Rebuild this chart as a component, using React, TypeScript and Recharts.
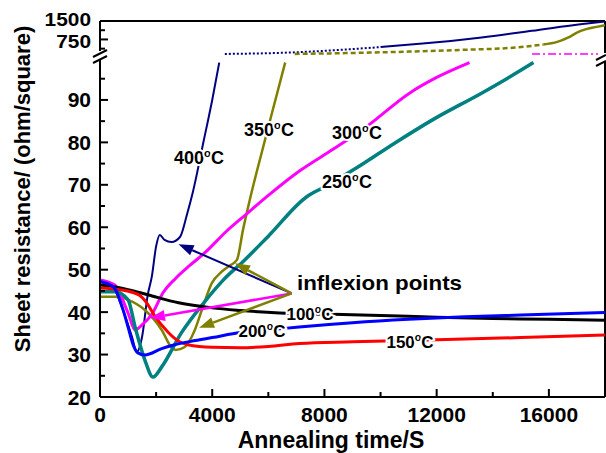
import { LineChart, Line, XAxis, YAxis, ReferenceLine } from 'recharts'

type Pt = [number, number]

// annealing time (s), sheet resistance (ohm/sq) -- lower panel
const r100: Pt[] = [[0, 46.4], [500, 46.0], [1000, 45.3], [1700, 44.1], [2800, 42.2], [4000, 41.0], [5000, 40.4], [6400, 39.8], [8300, 39.5], [10000, 39.2], [12000, 38.8], [14000, 38.5], [16000, 38.3], [18000, 38.1]]
const r150: Pt[] = [[0, 45.7], [700, 45.3], [1400, 44.0], [1650, 42.3], [1960, 39.0], [2420, 35.3], [2740, 33.4], [3130, 32.3], [4000, 31.7], [5000, 31.6], [6000, 31.9], [7100, 32.6], [9000, 33.0], [12000, 33.5], [15000, 34.0], [18000, 34.6]]
const r200: Pt[] = [[0, 47.2], [500, 45.8], [800, 41.0], [1000, 36.5], [1200, 32.0], [1350, 30.4], [1600, 29.9], [2200, 31.4], [2600, 32.2], [3400, 33.3], [4000, 34.0], [5000, 35.2], [6000, 35.8], [7100, 36.5], [9000, 37.5], [11000, 38.3], [13000, 38.9], [15000, 39.3], [18000, 39.9]]
const r250: Pt[] = [[0, 44.8], [530, 44.8], [1000, 42.9], [1250, 36.5], [1600, 28.7], [1890, 24.7], [2200, 27.1], [2900, 35.1], [3700, 42.2], [4400, 47.6], [5160, 52.3], [6000, 57.9], [7370, 67.2], [8000, 69.5], [9150, 74.0], [10500, 79.8], [11850, 85.3], [13630, 91.7], [14500, 95.0], [15450, 98.8]]
const r300: Pt[] = [[0, 47.6], [530, 46.4], [800, 43.0], [1000, 39.8], [1250, 35.8], [1500, 37.0], [1850, 39.5], [2240, 44.5], [2700, 48.0], [3200, 51.0], [3740, 54.0], [4500, 59.0], [5200, 63.0], [6000, 67.5], [7120, 73.3], [8290, 78.3], [9500, 83.7], [11030, 91.6], [12000, 95.3], [13170, 98.8]]
const r350: Pt[] = [[0, 43.6], [530, 43.6], [1000, 42.9], [1600, 40.5], [2200, 35.8], [2560, 31.6], [2700, 31.1], [3020, 31.8], [3380, 35.8], [3630, 40.5], [3990, 46.9], [4300, 49.3], [4560, 50.7], [4880, 52.3], [5100, 59.5], [5340, 66.5], [5800, 78.5], [6200, 88.7], [6600, 98.8]]
const r400: Pt[] = [[0, 47.1], [450, 46.0], [780, 41.2], [1000, 37.0], [1140, 34.2], [1310, 30.6], [1500, 34.2], [1700, 44.0], [1850, 48.5], [2000, 55.5], [2130, 58.2], [2300, 57.0], [2550, 56.5], [2850, 57.7], [3100, 63.0], [3300, 68.0], [3700, 80.5], [4000, 90.0], [4250, 98.8]]

// upper panel (ohm/sq > 100)
const r300Up: Pt[] = [[15400, 160], [18000, 160]]
const r350Up: Pt[] = [[6940, 160], [9000, 200], [11000, 255], [13000, 330], [14800, 420], [15800, 540], [16300, 650], [16700, 830], [17000, 1030], [17300, 1160], [17700, 1260], [18000, 1330]]
const r400Up: Pt[] = [[4450, 160], [6000, 190], [7120, 235], [8500, 320], [10000, 440], [11500, 580], [12500, 690], [13600, 830], [15400, 1100], [17200, 1380], [18000, 1480]]

// inflexion point arrows: tail, tip
const arrowTail: Pt = [6830, 44.4]
const arrowTips: { tip: Pt; color: string; w: number }[] = [
  { tip: [2800, 56.0], color: '#000080', w: 2 },
  { tip: [4810, 51.5], color: '#808000', w: 2.5 },
  { tip: [1780, 38.6], color: '#ff00ff', w: 2.5 },
  { tip: [3530, 36.3], color: '#808000', w: 2.5 },
]

const xTicks = [0, 2000, 4000, 6000, 8000, 10000, 12000, 14000, 16000]
const lowerTicks = [20, 25, 30, 35, 40, 45, 50, 55, 60, 65, 70, 75, 80, 85, 90, 95]
const upperTicks = [375, 750, 1125, 1500]
const upperLabels = [750, 1500]

// broken axis: values up to 100 are linear, above 100 squeezed into a small band
const UP_BASE = 100.49
const UP_SLOPE = 8.11 / 1400
function brk(v: number) {
  return v <= 100 ? v : UP_BASE + (v - 100) * UP_SLOPE
}
const Y_TOP = brk(1500)

const toRows = (pts: Pt[]) => pts.map(([t, r]) => ({ t, r: brk(r) }))

const FONT = '"Liberation Sans", Arial, sans-serif'

const yTickList = [
  ...lowerTicks.map((v) => ({ d: v, label: v % 10 === 0 ? String(v) : '', upper: false })),
  ...upperTicks.map((v) => ({ d: brk(v), label: upperLabels.includes(v) ? String(v) : '', upper: true })),
]

function XTick(props: any) {
  const { x, y, payload } = props
  const major = payload.value % 4000 === 0
  return (
    <g>
      <line x1={x} x2={x} y1={y} y2={y - (major ? 8 : 5)} stroke="#000" strokeWidth={2} />
      {major && (
        <text x={x} y={y + 25} textAnchor="middle" fontFamily={FONT} fontWeight="bold" fontSize={21} fill="#000">
          {payload.value}
        </text>
      )}
    </g>
  )
}

function YTick(props: any) {
  const { x, y, payload } = props
  const item = yTickList.find((t) => Math.abs(t.d - payload.value) < 1e-6)
  const label = item ? item.label : ''
  const upper = item ? item.upper : false
  // upper labels sit close together, nudge them apart a little
  const ly = upper ? (label === '1500' ? y - 1.5 : y + 1.5) : y
  return (
    <g>
      <line x1={x} x2={x + (label ? 8 : 5)} y1={y} y2={y} stroke="#000" strokeWidth={2} />
      {label && (
        <text
          x={x - 9}
          y={ly}
          dy="0.36em"
          textAnchor="end"
          fontFamily={FONT}
          fontWeight="bold"
          fontSize={upper ? 19 : 21}
          fill="#000"
          textLength={upper ? label.length * 11.6 : undefined}
          lengthAdjust="spacingAndGlyphs"
        >
          {label}
        </text>
      )}
    </g>
  )
}

function Arrow(color: string, w: number) {
  return (p: any) => {
    const { x1, y1, x2, y2 } = p
    const dx = x2 - x1
    const dy = y2 - y1
    const len = Math.sqrt(dx * dx + dy * dy)
    const ux = dx / len
    const uy = dy / len
    const hl = 15
    const hw = 5.5
    const bx = x2 - ux * hl
    const by = y2 - uy * hl
    return (
      <g>
        <line x1={x1} y1={y1} x2={bx} y2={by} stroke={color} strokeWidth={w} />
        <polygon
          points={`${x2},${y2} ${bx - uy * hw},${by + ux * hw} ${bx + uy * hw},${by - ux * hw}`}
          fill={color}
        />
      </g>
    )
  }
}

function TempLabel({ x, y, t, size = 18 }: { x: number; y: number; t: string; size?: number }) {
  return (
    <text
      x={x}
      y={y}
      textAnchor="middle"
      fontFamily={FONT}
      fontWeight="bold"
      fontSize={size}
      fill="#000"
      stroke="#fff"
      strokeWidth={4}
      paintOrder="stroke"
    >
      {t}
      <tspan fontSize={size * 0.62} dy={-size * 0.4}>o</tspan>
      <tspan dy={size * 0.4}>C</tspan>
    </text>
  )
}

const lower = [
  { key: 'r400', pts: r400, color: '#000080', w: 2 },
  { key: 'r350', pts: r350, color: '#808000', w: 2.5 },
  { key: 'r300', pts: r300, color: '#ff00ff', w: 3 },
  { key: 'r250', pts: r250, color: '#008080', w: 3.5 },
  { key: 'r100', pts: r100, color: '#000000', w: 3 },
  { key: 'r150', pts: r150, color: '#ff0000', w: 3 },
  { key: 'r200', pts: r200, color: '#0000ff', w: 3 },
]

export default function App() {
  return (
    <div style={{ position: 'absolute', left: 0, top: 0, width: 606, height: 453, background: '#fff' }}>
      <LineChart width={606} height={453} margin={{ top: 21, right: 1, bottom: 0, left: 0 }}>
        <XAxis
          dataKey="t"
          type="number"
          domain={[0, 18000]}
          ticks={xTicks}
          allowDataOverflow
          height={56}
          tickSize={0}
          tickMargin={0}
          tickLine={false}
          axisLine={{ stroke: '#000', strokeWidth: 2 }}
          tick={XTick}
        />
        <YAxis
          type="number"
          domain={[20, Y_TOP]}
          ticks={yTickList.map((t) => t.d)}
          allowDataOverflow
          width={100}
          tickSize={0}
          tickMargin={0}
          tickLine={false}
          axisLine={{ stroke: '#000', strokeWidth: 2 }}
          tick={YTick}
          interval={0}
        />
        <ReferenceLine y={Y_TOP} stroke="#000" strokeWidth={2} />
        <ReferenceLine x={18000} stroke="#000" strokeWidth={2} />
        {lower.map((s) => (
          <Line
            key={s.key}
            data={toRows(s.pts)}
            dataKey="r"
            type="monotone"
            stroke={s.color}
            strokeWidth={s.w}
            dot={false}
            isAnimationActive={false}
          />
        ))}
        <Line data={toRows(r400Up.filter(([t]) => t <= 10000))} dataKey="r" type="monotone" stroke="#000080" strokeWidth={2} strokeDasharray="2 2" dot={false} isAnimationActive={false} />
        <Line data={toRows(r400Up.filter(([t]) => t >= 10000))} dataKey="r" type="monotone" stroke="#000080" strokeWidth={2} dot={false} isAnimationActive={false} />
        <Line data={toRows(r350Up.filter(([t]) => t <= 15800))} dataKey="r" type="monotone" stroke="#808000" strokeWidth={2.5} strokeDasharray="5 3" dot={false} isAnimationActive={false} />
        <Line data={toRows(r350Up.filter(([t]) => t >= 15800))} dataKey="r" type="monotone" stroke="#808000" strokeWidth={2.5} dot={false} isAnimationActive={false} />
        <Line data={toRows(r300Up)} dataKey="r" type="linear" stroke="#ff00ff" strokeWidth={1.5} strokeDasharray="8 3 2 3" dot={false} isAnimationActive={false} />
        {arrowTips.map((a, i) => (
          <ReferenceLine
            key={i}
            segment={[
              { x: arrowTail[0], y: arrowTail[1] },
              { x: a.tip[0], y: a.tip[1] },
            ]}
            stroke={a.color}
            shape={Arrow(a.color, a.w)}
          />
        ))}
      </LineChart>
      <svg width={606} height={453} style={{ position: 'absolute', left: 0, top: 0, pointerEvents: 'none' }}>
        {/* axis breaks */}
        <rect x={94} y={51} width={13} height={9} fill="#fff" />
        <line x1={93} y1={57} x2={107} y2={50} stroke="#000" strokeWidth={2} />
        <line x1={93} y1={63} x2={107} y2={56} stroke="#000" strokeWidth={2} />
        <rect x={598} y={53} width={8} height={9} fill="#fff" />
        <line x1={596} y1={60} x2={606} y2={55} stroke="#000" strokeWidth={2} />
        <line x1={596} y1={66} x2={606} y2={61} stroke="#000" strokeWidth={2} />
        {/* axis titles */}
        <text x={331} y={448} textAnchor="middle" fontFamily={FONT} fontWeight="bold" fontSize={23} fill="#000">
          Annealing time/S
        </text>
        <text
          x={30}
          y={189}
          transform="rotate(-90 30 189)"
          textAnchor="middle"
          fontFamily={FONT}
          fontWeight="bold"
          fontSize={22}
          fill="#000"
        >
          Sheet resistance/ (ohm/square)
        </text>
        {/* curve labels */}
        <TempLabel x={199} y={164} t="400" />
        <TempLabel x={269} y={136} t="350" />
        <TempLabel x={357} y={139} t="300" />
        <TempLabel x={347} y={188} t="250" />
        <TempLabel x={310} y={320} t="100" size={17} />
        <TempLabel x={262} y={337} t="200" size={17} />
        <TempLabel x={410} y={348} t="150" size={17} />
        <text
          x={297}
          y={290}
          fontFamily={FONT}
          fontWeight="bold"
          fontSize={21}
          fill="#000"
          textLength={165}
          lengthAdjust="spacingAndGlyphs"
        >
          inflexion points
        </text>
      </svg>
    </div>
  )
}
